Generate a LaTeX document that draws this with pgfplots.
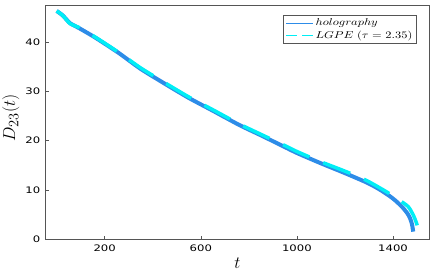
\documentclass[border=0pt]{standalone}
\usepackage{fontspec}
\usepackage{graphicx}
\usepackage{pgfplots}
\pgfplotsset{compat=1.18}
\newfontfamily\tickfont[FakeStretch=1.3]{DejaVu Sans}
\definecolor{holo}{RGB}{45,140,232}
\definecolor{lgpe}{RGB}{0,238,245}
\definecolor{frame}{RGB}{85,85,85}
\begin{document}
\begin{tikzpicture}
\path[use as bounding box] (-45.7bp,-34bp) rectangle (390.3bp,239bp);
\begin{axis}[
  at={(0,0)}, anchor=south west,
  scale only axis, width=383.6bp, height=233.3bp,
  xmin=-45.6, xmax=1551, ymin=0, ymax=47.47,
  xtick={200,600,1000,1400}, ytick={0,10,20,30,40},
  tick pos=left, tick align=inside, major tick length=3bp,
  axis line style={frame, line width=0.8bp},
  every tick/.style={frame, line width=0.6bp},
  /pgf/number format/assume math mode=true,
  /pgf/number format/1000 sep={},
  ticklabel style={font=\tickfont\fontsize{9}{10}\selectfont, text=black},
  xticklabel style={yshift=-2.5bp},
  yticklabel style={xshift=-2bp},
  xlabel={$t$},
  ylabel={$D_{23}(t)$},
  label style={font=\fontsize{19}{22}\selectfont},
  xlabel style={at={(axis description cs:0.5,-0.1256)}, anchor=base},
  ylabel style={at={(axis description cs:-0.080,0.52)}, anchor=base},
  legend style={at={(rel axis cs:0.967,0.962)}, anchor=north east,
    draw=frame, line width=0.6bp, fill=white, inner sep=2bp,
    font=\fontsize{9.7}{10}\selectfont, legend cell align=left,
    row sep=-0.5bp},
]
\addplot[holo, line width=4bp, line join=round, smooth, tension=0.4,
  legend image code/.code={\draw[holo, line width=1.1bp] (0bp,0bp) -- (27bp,0bp);}]
  coordinates {
(0,46.4) (25,45.5) (56,43.9) (90,43.0) (160,41.0) (257,37.9) (350,34.6)
(450,31.6) (550,28.7) (650,26.1) (760,23.2) (850,21.1) (950,18.7)
(1000,17.5) (1100,15.4) (1200,13.4) (1290,11.5) (1340,10.2) (1387,8.7)
(1415,7.6) (1442,6.3) (1460,5.2) (1471,4.2) (1479,3.0) (1484,1.5)
};
\addlegendentry{\scalebox{1.25}[1]{$holography$}}
\addplot[lgpe, line width=3.5bp, line join=round, smooth, tension=0.4,
  dash pattern=on 29bp off 15bp,
  legend image code/.code={\draw[lgpe, line width=1.1bp, dash pattern=on 11bp off 5bp] (0bp,0bp) -- (27bp,0bp);}]
  coordinates {
(0,46.4) (25,45.5) (56,43.8) (90,43.1) (160,41.1) (257,38.0) (350,34.8)
(450,31.8) (550,28.9) (650,26.3) (760,23.4) (850,21.3) (950,19.0)
(1000,17.8) (1100,15.7) (1200,13.8) (1290,11.9) (1373,9.6) (1420,8.1)
(1463,6.6) (1485,4.8) (1498,3.2) (1506,1.9)
};
\addlegendentry{\scalebox{1.25}[1]{$LGPE\;(\tau = 2.35)$}}
\end{axis}
\end{tikzpicture}
\end{document}
